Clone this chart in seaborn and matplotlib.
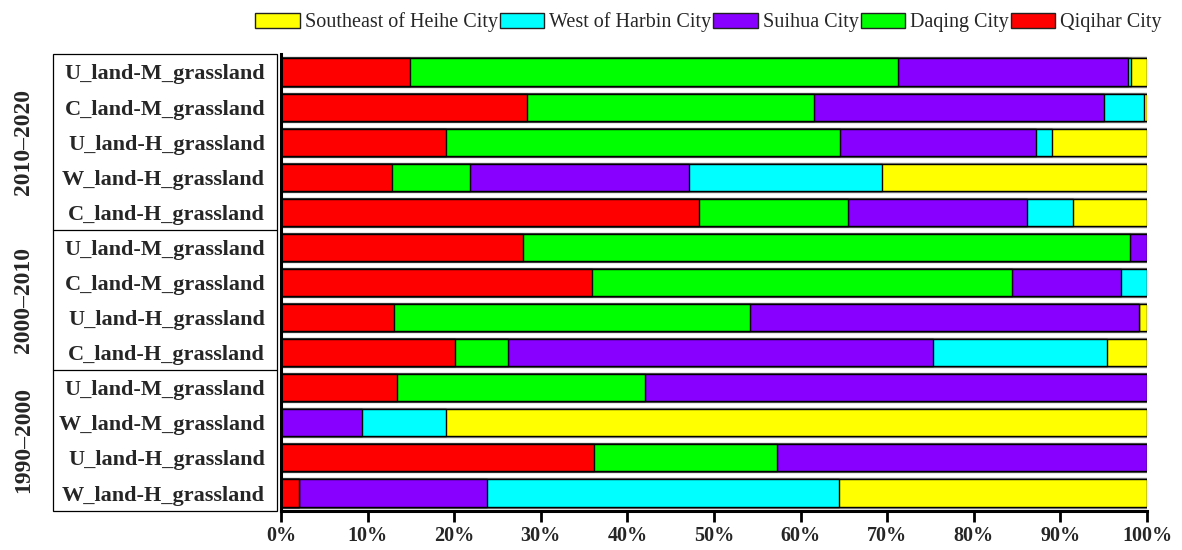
import matplotlib
matplotlib.use("Agg")
import matplotlib.pyplot as plt
import matplotlib.transforms as mtransforms
from matplotlib.patches import Patch, Rectangle
import numpy as np
import pandas as pd
import seaborn as sns

# ---- data (percent share of each city, rows listed top to bottom) ----
periods = ["2010–2020"] * 5 + ["2000–2010"] * 4 + ["1990–2000"] * 4
land_types = [
    "U_land-M_grassland", "C_land-M_grassland", "U_land-H_grassland",
    "W_land-H_grassland", "C_land-H_grassland",
    "U_land-M_grassland", "C_land-M_grassland", "U_land-H_grassland",
    "C_land-H_grassland",
    "U_land-M_grassland", "W_land-M_grassland", "U_land-H_grassland",
    "W_land-H_grassland",
]
qiqihar = [14.9, 28.4, 19.1, 12.8, 48.3, 28.0, 35.9, 13.1, 20.1, 13.4, 0.0, 36.2, 2.1]
daqing = [56.3, 33.2, 45.4, 9.0, 17.2, 70.0, 48.5, 41.0, 6.1, 28.6, 0.0, 21.1, 0.0]
suihua = [26.6, 33.4, 22.7, 25.3, 20.6, 2.0, 12.6, 45.0, 49.1, 58.0, 9.4, 42.7, 21.7]
west_harbin = [0.3, 4.7, 1.8, 22.3, 5.4, 0.0, 3.0, 0.0, 20.1, 0.0, 9.6, 0.0, 40.6]
se_heihe = [1.9, 0.3, 11.0, 30.6, 8.5, 0.0, 0.0, 0.9, 4.6, 0.0, 81.0, 0.0, 35.6]

city_names = ["Qiqihar City", "Daqing City", "Suihua City",
              "West of Harbin City", "Southeast of Heihe City"]
city_colors = ["#FF0000", "#00FF00", "#8800FF", "#00FFFF", "#FFFF00"]
x_ticks = [0, 10, 20, 30, 40, 50, 60, 70, 80, 90, 100]

# ---- styling ----
sns.set_style("white")
plt.rcParams["font.family"] = ["Liberation Serif", "DejaVu Serif"]

W, H = 1182, 550
fig = plt.figure(figsize=(W / 100, H / 100), dpi=100)
ax = fig.add_axes([281 / W, 1 - 511 / H, 866 / W, 457 / H])

row_keys = [f"{p} | {t} | {i}" for i, (p, t) in enumerate(zip(periods, land_types))]
shares = np.array([qiqihar, daqing, suihua, west_harbin, se_heihe])
cum = np.cumsum(shares, axis=0)

# thin grey rim around every bar row
sns.barplot(x=cum[-1], y=row_keys, order=row_keys, orient="y", ax=ax,
            color="white", saturation=1, width=0.83, edgecolor="#8a8a8a",
            linewidth=1.0, errorbar=None)

# stacked segments: draw the longest cumulative bar first, shortest on top
for k in range(len(city_names) - 1, -1, -1):
    sns.barplot(x=cum[k], y=row_keys, order=row_keys, orient="y", ax=ax,
                color=city_colors[k], saturation=1, width=0.77,
                edgecolor="black", linewidth=1.0, errorbar=None)

n = len(row_keys)
ax.set_xlim(0, 100)
ax.set_ylim(n - 1 + 0.513, -0.513)
ax.set_xlabel("")
ax.set_ylabel("")

ax.set_xticks(x_ticks)
ax.set_xticklabels([f"{v}%" for v in x_ticks], fontsize=14.5, fontweight="bold")
ax.set_yticks(range(n))
ax.set_yticklabels(land_types, fontsize=16, fontweight="bold")
ax.tick_params(axis="x", direction="out", length=8, width=2.0, pad=3,
               bottom=True, color="black")
ax.tick_params(axis="y", length=0, pad=11.5)

for side in ("top", "right"):
    ax.spines[side].set_visible(False)
for side in ("left", "bottom"):
    ax.spines[side].set_linewidth(2.2)
    ax.spines[side].set_color("black")

# label table frame at the left of the axis
trans = mtransforms.blended_transform_factory(ax.transAxes, ax.transData)
box_left, box_right = -0.263, -0.0046
y_top, y_bot = -0.513, n - 1 + 0.513
ax.add_patch(Rectangle((box_left, y_top), box_right - box_left, y_bot - y_top,
                       transform=trans, fill=False, edgecolor="black",
                       linewidth=0.9, clip_on=False))
group_sizes = pd.Series(periods).groupby(pd.Series(periods), sort=False).size()
start = 0
for period, size in group_sizes.items():
    end = start + size
    if end < n:
        ax.plot([box_left, box_right], [end - 0.5, end - 0.5], transform=trans,
                color="black", linewidth=0.9, clip_on=False)
    ax.text(-0.2968, (start + end - 1) / 2, period, transform=trans,
            rotation=90, ha="center", va="center", fontsize=17,
            fontweight="bold")
    start = end

# legend along the top, in the order shown left to right
order = [4, 3, 2, 1, 0]
handles = [Patch(facecolor=city_colors[i], edgecolor="#222222", linewidth=1.0)
           for i in order]
fig.legend(handles, [city_names[i] for i in order], loc="center",
           bbox_to_anchor=(708.5 / W, 1 - 22.5 / H), ncol=5, frameon=False,
           handlelength=2.2, handleheight=0.8, handletextpad=0.25,
           columnspacing=0.1, borderaxespad=0, borderpad=0,
           prop={"family": "Liberation Serif", "size": 14.5})

fig.savefig("out.png", dpi=100)
